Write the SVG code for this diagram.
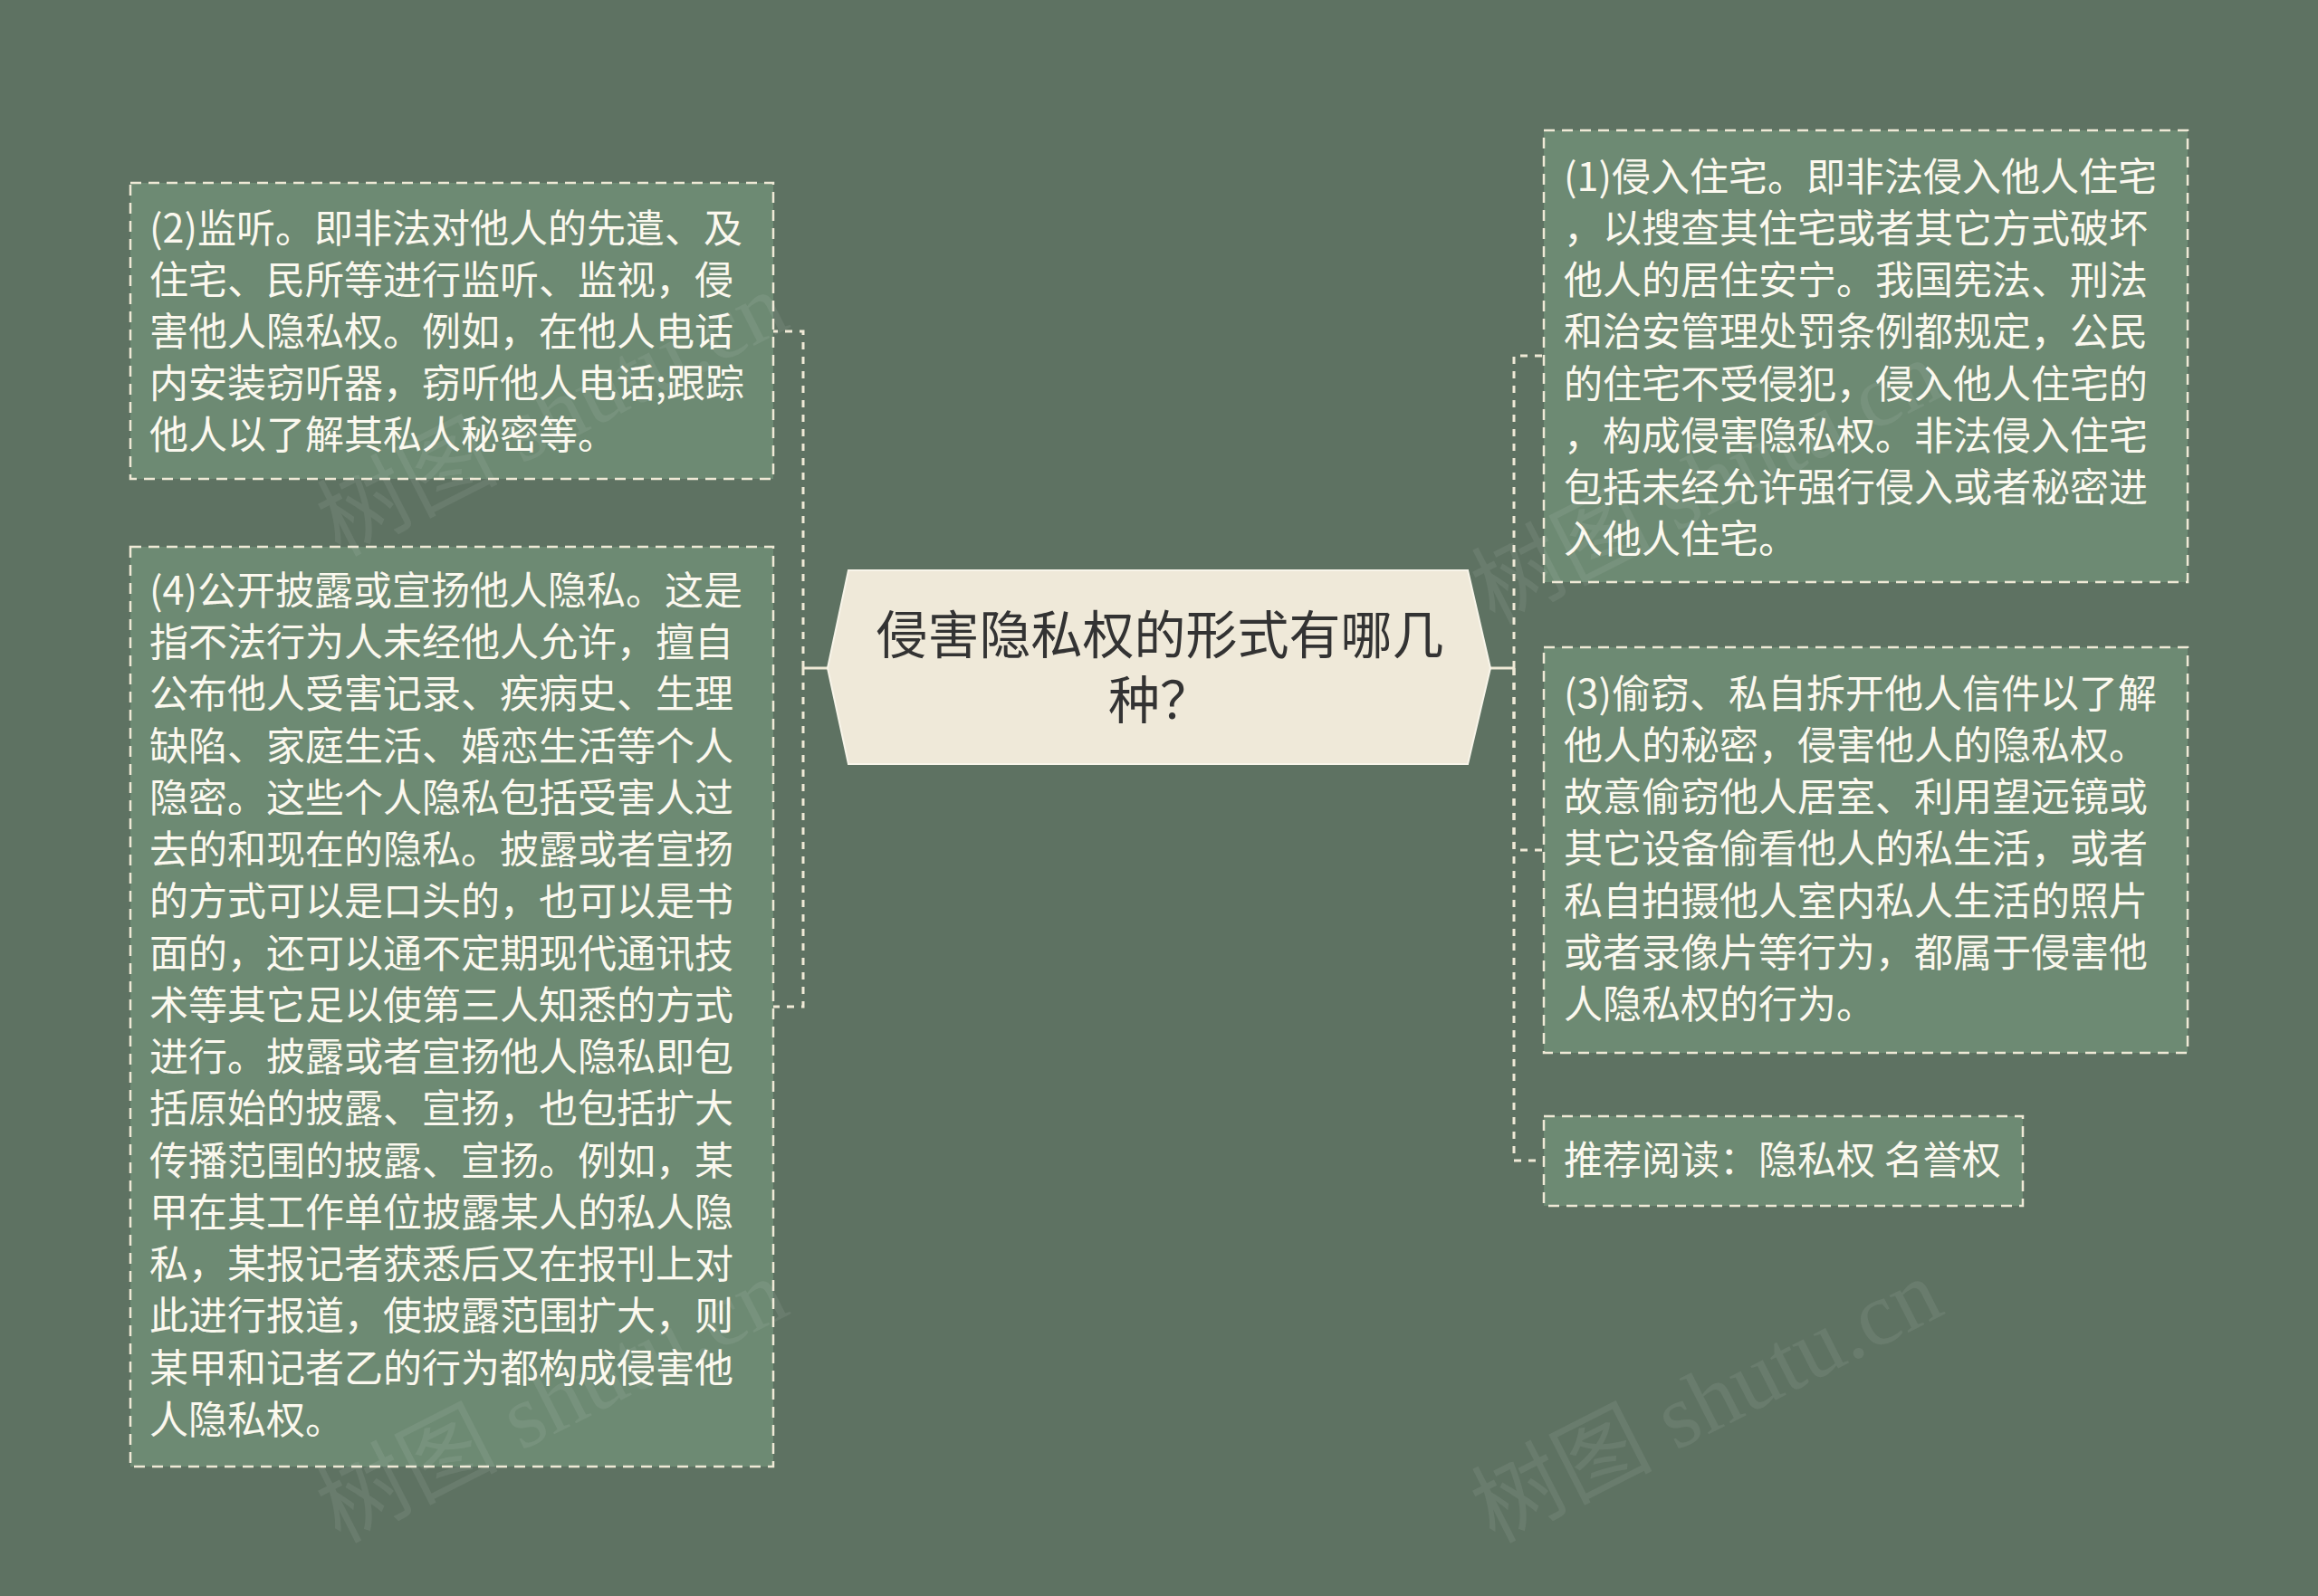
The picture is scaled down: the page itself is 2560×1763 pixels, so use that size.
<svg xmlns="http://www.w3.org/2000/svg" width="2560" height="1763" viewBox="0 0 2560 1763">
<style>
.box{fill:#6d8a73;stroke:#efe9d6;stroke-width:2.5;stroke-dasharray:12 8}
.txt{font-family:"Noto Sans CJK SC","Noto Sans",sans-serif;font-size:43px;fill:#fbf8ee}
.ctxt{font-family:"Noto Sans CJK SC","Noto Sans",sans-serif;font-size:57px;fill:#333333}
.conn{fill:none;stroke:#efe9d6;stroke-width:3}
.dash{stroke-dasharray:8 8}
.wm{font-family:"Liberation Serif","Noto Sans CJK SC",serif;font-size:100px;fill:#ffffff;opacity:0.07}
</style>
<rect x="0" y="0" width="2560" height="1763" fill="#5e7262"/>
<g id="connectors">
<path class="conn" d="M914 738 H887"/>
<path class="conn dash" d="M887 738 V366 H854"/>
<path class="conn dash" d="M887 738 V1112 H854"/>
<path class="conn" d="M1646 738 H1672"/>
<path class="conn dash" d="M1672 738 V393 H1705"/>
<path class="conn dash" d="M1672 738 V939 H1705"/>
<path class="conn dash" d="M1672 738 V1282 H1705"/>
</g>
<g id="center">
<polygon points="914,738 937,630 1621,630 1646,738 1621,844 937,844" fill="#efe9d9" stroke="#f8f5ea" stroke-width="2"/>
<text class="ctxt" text-anchor="middle"><tspan x="1281" y="722">侵害隐私权的形式有哪几</tspan><tspan x="1281" y="794">种？</tspan></text>
</g>
<g id="node2">
<rect class="box" x="144" y="202" width="710" height="327"/>
<text class="txt"><tspan x="165" y="268">(2)监听。即非法对他人的先遣、及</tspan><tspan x="165" y="325">住宅、民所等进行监听、监视，侵</tspan><tspan x="165" y="382">害他人隐私权。例如，在他人电话</tspan><tspan x="165" y="439">内安装窃听器，窃听他人电话;跟踪</tspan><tspan x="165" y="496">他人以了解其私人秘密等。</tspan></text>
</g>
<g id="node4">
<rect class="box" x="144" y="604" width="710" height="1016"/>
<text class="txt"><tspan x="165" y="668">(4)公开披露或宣扬他人隐私。这是</tspan><tspan x="165" y="725">指不法行为人未经他人允许，擅自</tspan><tspan x="165" y="782">公布他人受害记录、疾病史、生理</tspan><tspan x="165" y="840">缺陷、家庭生活、婚恋生活等个人</tspan><tspan x="165" y="897">隐密。这些个人隐私包括受害人过</tspan><tspan x="165" y="954">去的和现在的隐私。披露或者宣扬</tspan><tspan x="165" y="1011">的方式可以是口头的，也可以是书</tspan><tspan x="165" y="1069">面的，还可以通不定期现代通讯技</tspan><tspan x="165" y="1126">术等其它足以使第三人知悉的方式</tspan><tspan x="165" y="1183">进行。披露或者宣扬他人隐私即包</tspan><tspan x="165" y="1240">括原始的披露、宣扬，也包括扩大</tspan><tspan x="165" y="1298">传播范围的披露、宣扬。例如，某</tspan><tspan x="165" y="1355">甲在其工作单位披露某人的私人隐</tspan><tspan x="165" y="1412">私，某报记者获悉后又在报刊上对</tspan><tspan x="165" y="1469">此进行报道，使披露范围扩大，则</tspan><tspan x="165" y="1527">某甲和记者乙的行为都构成侵害他</tspan><tspan x="165" y="1584">人隐私权。</tspan></text>
</g>
<g id="node1">
<rect class="box" x="1705" y="144" width="711" height="499"/>
<text class="txt"><tspan x="1727" y="211">(1)侵入住宅。即非法侵入他人住宅</tspan><tspan x="1727" y="268">，以搜查其住宅或者其它方式破坏</tspan><tspan x="1727" y="325">他人的居住安宁。我国宪法、刑法</tspan><tspan x="1727" y="382">和治安管理处罚条例都规定，公民</tspan><tspan x="1727" y="440">的住宅不受侵犯，侵入他人住宅的</tspan><tspan x="1727" y="497">，构成侵害隐私权。非法侵入住宅</tspan><tspan x="1727" y="554">包括未经允许强行侵入或者秘密进</tspan><tspan x="1727" y="611">入他人住宅。</tspan></text>
</g>
<g id="node3">
<rect class="box" x="1705" y="715" width="711" height="448"/>
<text class="txt"><tspan x="1727" y="782">(3)偷窃、私自拆开他人信件以了解</tspan><tspan x="1727" y="839">他人的秘密，侵害他人的隐私权。</tspan><tspan x="1727" y="896">故意偷窃他人居室、利用望远镜或</tspan><tspan x="1727" y="953">其它设备偷看他人的私生活，或者</tspan><tspan x="1727" y="1011">私自拍摄他人室内私人生活的照片</tspan><tspan x="1727" y="1068">或者录像片等行为，都属于侵害他</tspan><tspan x="1727" y="1125">人隐私权的行为。</tspan></text>
</g>
<g id="node5">
<rect class="box" x="1705" y="1233" width="529" height="99"/>
<text class="txt"><tspan x="1727" y="1297">推荐阅读：隐私权 名誉权</tspan></text>
</g>
<g id="watermarks">
<text class="wm" transform="translate(375,615) rotate(-27)">树图 shutu.cn</text>
<text class="wm" transform="translate(375,1705) rotate(-27)">树图 shutu.cn</text>
<text class="wm" transform="translate(1650,690) rotate(-27)">树图 shutu.cn</text>
<text class="wm" transform="translate(1650,1705) rotate(-27)">树图 shutu.cn</text>
</g>
</svg>
